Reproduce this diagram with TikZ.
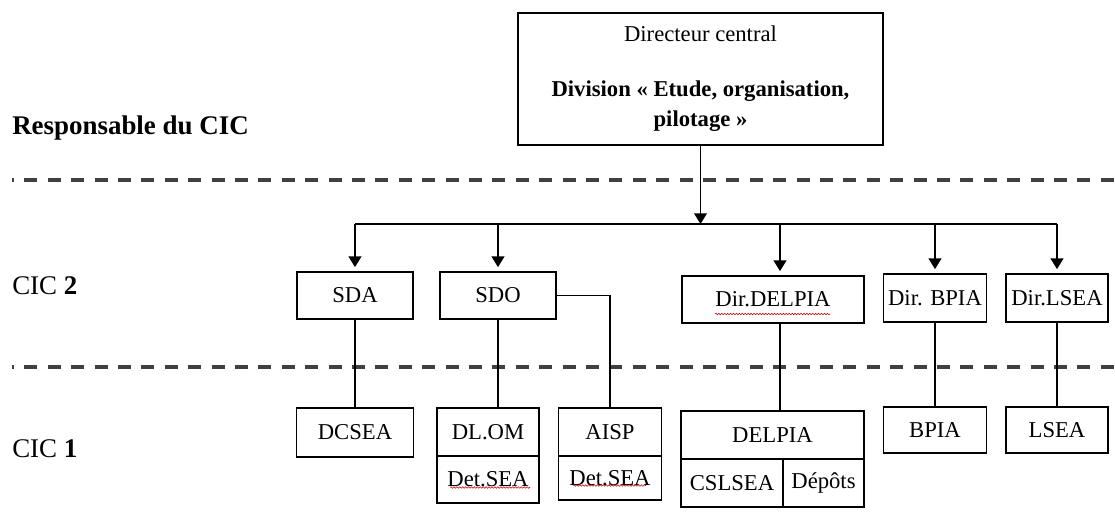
\documentclass[tikz,border=0pt]{standalone}
\usepackage{fontspec}
\setmainfont{Liberation Serif}
\usetikzlibrary{arrows.meta,calc,decorations.pathmorphing}

\begin{document}
\begin{tikzpicture}[x=0.75pt, y=-0.75pt,
		unit/.style={draw=black, line width=1.3pt, inner sep=0pt, font=\fontsize{17}{20}\selectfont},
		level/.style={anchor=base west, inner sep=0pt, font=\fontsize{20.2}{24}\selectfont},
		link/.style={line width=1.3pt},
		down/.style={line width=1.3pt, -{Triangle[length=8pt,width=9.5pt]}, shorten >=3pt},
		sep/.style={line width=3pt, color=black!75, dash pattern=on 9.75pt off 7.8pt, dash phase=8.25pt},
		typo/.style={red!80!black, line width=0.4pt, decorate, decoration={snake, amplitude=0.6pt, segment length=2.2pt}}]
		%%%%% START %%%%%
		\useasboundingbox (0,0) rectangle (1115,529);
		
		\draw[sep] (12,180) -- (1115,180);
		\draw[sep] (12,367) -- (1115,367);
		
		\node[level] (lresp) at (12,134) {\textbf{Responsable du CIC}};
		\node[level] (lcic2) at (12,294) {CIC \textbf{2}};
		\node[level] (lcic1) at (12,457) {CIC \textbf{1}};
		
		\node[unit, minimum width=273.75pt, minimum height=99pt, align=center, font=\fontsize{17}{22.5}\selectfont] (top) at (700.5,79)
			{Directeur central\\[18.75pt]\textbf{Division « Etude, organisation,}\\\textbf{pilotage »}};
		
		% CIC 2
		\node[unit, minimum width=87pt, minimum height=35.25pt] (sda) at (355,295.5) {SDA};
		\node[unit, minimum width=87pt, minimum height=35.25pt] (sdo) at (498,295.5) {SDO};
		\node[unit, minimum width=136.5pt, minimum height=35.25pt] (ddelpia) at (773,299.5) {Dir.DELPIA};
		\node[unit, minimum width=77.25pt, minimum height=36pt] (dbpia) at (935,298) {Dir. BPIA};
		\node[unit, minimum width=76.5pt, minimum height=36pt] (dlsea) at (1057,298) {Dir.LSEA};
		
		% CIC 1
		\node[unit, minimum width=87.75pt, minimum height=36.75pt] (dcsea) at (355,432.5) {DCSEA};
		\node[unit, minimum width=76.5pt, minimum height=36pt] (dlom) at (488,432) {DL.OM};
		\node[unit, minimum width=76.5pt, minimum height=35.25pt] (detsea1) at (488,479.5) {Det.SEA};
		\node[unit, minimum width=77.25pt, minimum height=36pt] (aisp) at (610,432) {AISP};
		\node[unit, minimum width=77.25pt, minimum height=33pt] (detsea2) at (610,478) {Det.SEA};
		\node[unit, minimum width=137.25pt, minimum height=36pt] (delpia) at (772.5,435) {DELPIA};
		\node[unit, minimum width=76.5pt, minimum height=36pt] (cslsea) at (732,483) {CSLSEA};
		\node[unit, minimum width=60.75pt, minimum height=36pt] (depots) at (823.5,483) {Dépôts};
		\node[unit, minimum width=77.25pt, minimum height=34.5pt] (bpia) at (935,430) {BPIA};
		\node[unit, minimum width=76.5pt, minimum height=34.5pt] (lsea) at (1057,430) {LSEA};
		
		% spelling marks
		\draw[typo] ($(detsea1.center)+(-38,8)$) -- ++(80,0);
		\draw[typo] ($(detsea2.center)+(-37,7.5)$) -- ++(73,0);
		\draw[typo] ($(ddelpia.center)+(-58,14.5)$) -- ++(115,0);
		
		% connectors
		\coordinate (bus) at (0,224);
		\coordinate (tap) at (780,224);
		\draw[down, shorten >=0pt] (top.south) -- (top.south |- bus);
		\draw[link] (sda.north |- bus) -- (dlsea.north |- bus);
		\draw[down] (sda.north |- bus) -- (sda.north);
		\draw[down] (sdo.north |- bus) -- (sdo.north);
		\draw[down] (tap) -- (tap |- ddelpia.north);
		\draw[down] (dbpia.north |- bus) -- (dbpia.north);
		\draw[down] (dlsea.north |- bus) -- (dlsea.north);
		
		\draw[link] (sda.south) -- (dcsea.north);
		\draw[link] (sdo.south) -- (sdo.south |- dlom.north);
		\draw[link] (sdo.east) -| (aisp.north);
		\draw[link] (ddelpia.south -| tap) -- (delpia.north -| tap);
		\draw[link] (dbpia.south) -- (bpia.north);
		\draw[link] (dlsea.south) -- (lsea.north);
		
		%%%%% END %%%%%
\end{tikzpicture}
\end{document}
